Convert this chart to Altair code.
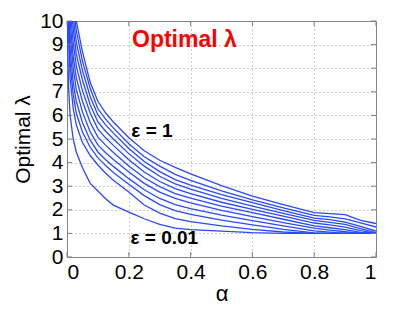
import altair as alt
import pandas as pd

alpha = [0, 0.005, 0.01, 0.02, 0.03, 0.05, 0.075, 0.1, 0.125, 0.15, 0.2, 0.25,
         0.3, 0.35, 0.4, 0.5, 0.6, 0.7, 0.8, 0.85, 0.9, 0.95, 1.0]

eps_names = ["0.01", "0.1", "0.2", "0.3", "0.4", "0.5", "0.6", "0.7", "0.8", "0.9", "1"]

lam_001 = [10.5, 7.2, 6.0, 5.0, 4.45, 3.78, 3.12, 2.8, 2.47, 2.2, 1.9, 1.62,
           1.38, 1.22, 1.16, 1.1, 1.03, 1.0, 1.0, 1.0, 1.0, 1.0, 1.0]
lam_01 = [11.5, 9.3, 7.6, 6.3, 5.6, 4.85, 4.3, 3.9, 3.55, 3.25, 2.75, 2.2,
          1.86, 1.63, 1.5, 1.32, 1.17, 1.06, 1.0, 1.0, 1.0, 1.0, 1.0]
lam_02 = [12, 10.0, 8.2, 6.9, 6.1, 5.3, 4.65, 4.2, 3.88, 3.58, 3.08, 2.6,
          2.22, 1.97, 1.81, 1.56, 1.36, 1.17, 1.02, 1.0, 1.0, 1.0, 1.0]
lam_03 = [13, 10.6, 8.8, 7.4, 6.6, 5.7, 4.95, 4.45, 4.12, 3.84, 3.32, 2.85,
          2.48, 2.22, 2.05, 1.77, 1.54, 1.32, 1.11, 1.05, 1.0, 1.0, 1.0]
lam_04 = [14, 11.2, 9.4, 8.0, 7.1, 6.15, 5.3, 4.75, 4.42, 4.13, 3.6, 3.12,
          2.75, 2.48, 2.29, 1.98, 1.71, 1.46, 1.22, 1.14, 1.07, 1.0, 1.0]
lam_05 = [15, 11.8, 10.0, 8.5, 7.6, 6.6, 5.7, 5.08, 4.74, 4.43, 3.86, 3.36,
          2.98, 2.69, 2.49, 2.16, 1.88, 1.6, 1.32, 1.24, 1.16, 1.04, 1.0]
lam_06 = [16, 12.5, 10.6, 9.1, 8.1, 7.05, 6.1, 5.42, 5.05, 4.73, 4.12, 3.6,
          3.2, 2.9, 2.69, 2.32, 2.02, 1.73, 1.44, 1.36, 1.27, 1.12, 1.0]
lam_07 = [17, 13, 11.3, 9.7, 8.6, 7.5, 6.45, 5.72, 5.33, 5.0, 4.38, 3.85,
          3.42, 3.1, 2.88, 2.48, 2.16, 1.85, 1.55, 1.47, 1.38, 1.2, 1.03]
lam_08 = [18, 14, 12, 10.2, 9.1, 7.9, 6.8, 6.02, 5.6, 5.25, 4.6, 4.05,
          3.62, 3.28, 3.05, 2.64, 2.30, 1.97, 1.65, 1.58, 1.48, 1.3, 1.1]
lam_09 = [19, 15, 12.8, 10.7, 9.6, 8.3, 7.15, 6.28, 5.84, 5.47, 4.8, 4.25,
          3.85, 3.5, 3.25, 2.8, 2.42, 2.08, 1.76, 1.7, 1.62, 1.45, 1.27]
lam_10 = [20, 16, 13.5, 11.3, 10.0, 8.7, 7.4, 6.6, 6.1, 5.72, 5.05, 4.5,
          4.1, 3.8, 3.52, 3.02, 2.58, 2.22, 1.88, 1.84, 1.8, 1.55, 1.42]

curves = [lam_001, lam_01, lam_02, lam_03, lam_04, lam_05, lam_06, lam_07,
          lam_08, lam_09, lam_10]

x_ticks = [0, 0.2, 0.4, 0.6, 0.8, 1.0]
y_ticks = [0, 1, 2, 3, 4, 5, 6, 7, 8, 9, 10]

rows = []
for name, vals in zip(eps_names, curves):
    for a, v in zip(alpha, vals):
        rows.append({"eps": name, "alpha": a, "lam": v})
df = pd.DataFrame(rows)

ann = pd.DataFrame({
    "alpha": [0.38, 0.275, 0.315],
    "lam": [9.2, 5.35, 0.8],
    "txt": ["Optimal λ", "ε = 1", "ε = 0.01"],
    "kind": ["title", "lab", "lab"],
})

W, H = 309, 236
FONT = "Liberation Sans"
AX = "#7f7f7f"

xs = alt.Scale(domain=[0, 1], nice=False, zero=False)
ys = alt.Scale(domain=[0, 10], nice=False)
xa = alt.Axis(values=x_ticks, title="α", format="~g", grid=True,
              ticks=False, domain=False, labelPadding=4, titlePadding=1,
              labelFont=FONT, titleFont=FONT, labelFontSize=21, titleFontSize=22,
              labelColor="#000", titleColor="#000", titleFontWeight="normal",
              gridColor="#9a9a9a", gridDash=[1, 3], gridWidth=1)
ya = alt.Axis(values=y_ticks, title="Optimal λ", grid=True,
              ticks=False, domain=False, labelPadding=4, titlePadding=6,
              labelFont=FONT, titleFont=FONT, labelFontSize=21, titleFontSize=21,
              labelColor="#000", titleColor="#000", titleFontWeight="normal",
              gridColor="#9a9a9a", gridDash=[1, 3], gridWidth=1)
X = alt.X("alpha:Q", scale=xs, axis=xa)
Y = alt.Y("lam:Q", scale=ys, axis=ya)

lines = alt.Chart(df).mark_line(color="#2a48ff", strokeWidth=1.3, clip=True).encode(
    x=X, y=Y, detail="eps:N",
)

xt = pd.DataFrame({"alpha": x_ticks})
yt = pd.DataFrame({"lam": y_ticks})

xb = alt.Chart(xt).mark_rule(color=AX).encode(
    x=X, y=alt.value(H), y2=alt.value(H - 5))
xtop = alt.Chart(xt).mark_rule(color=AX).encode(
    x=X, y=alt.value(0), y2=alt.value(5))
yl = alt.Chart(yt).mark_rule(color=AX).encode(
    y=Y, x=alt.value(0), x2=alt.value(5))
yr = alt.Chart(yt).mark_rule(color=AX).encode(
    y=Y, x=alt.value(W), x2=alt.value(W - 5))

title_txt = alt.Chart(ann[ann.kind == "title"]).mark_text(
    color="#ff0000", fontWeight="bold", fontSize=23, font=FONT
).encode(x=X, y=Y, text="txt:N")
lab_txt = alt.Chart(ann[ann.kind == "lab"]).mark_text(
    color="#000000", fontWeight="bold", fontSize=19, font=FONT
).encode(x=X, y=Y, text="txt:N")

chart = alt.layer(lines, xb, xtop, yl, yr, title_txt, lab_txt).properties(
    width=W, height=H,
    background="white",
    autosize=alt.AutoSizeParams(type="none"),
    padding={"left": 59, "top": 13, "right": 30, "bottom": 52},
).configure_view(
    stroke=AX, strokeWidth=1
)

chart.save("out.html", embed_options={"renderer": "svg", "actions": False})
